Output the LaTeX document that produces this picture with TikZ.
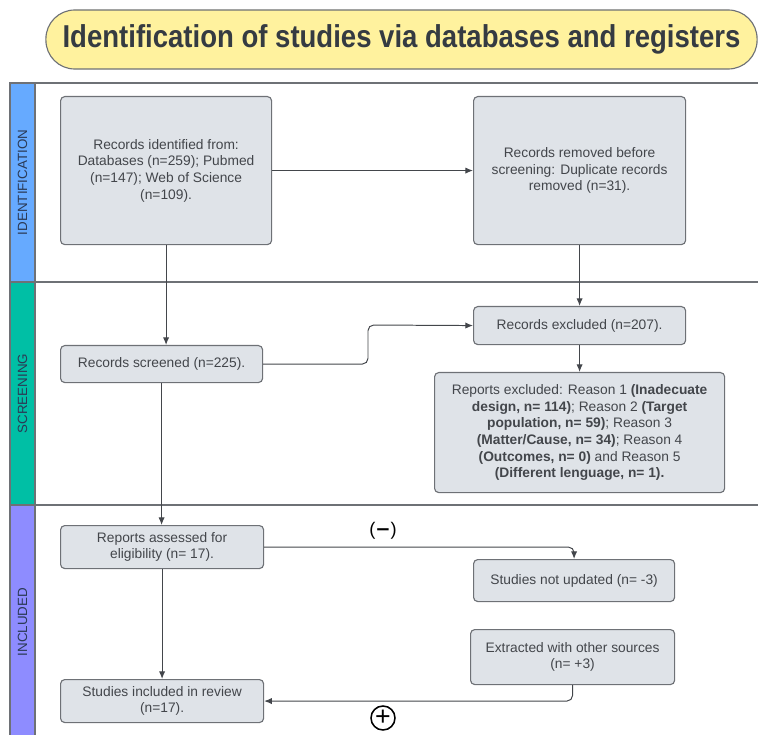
\documentclass[tikz,border=0pt]{standalone}
\usepackage{fontspec}
\usepackage{graphicx}
\setmainfont{Liberation Sans}
\newfontfamily\symbfont{DejaVu Sans}
\usepackage{xcolor}
\usepackage{tikz}
\usetikzlibrary{arrows.meta}

\definecolor{titlefill}{HTML}{FFF29E}
\definecolor{titletext}{HTML}{353B42}
\definecolor{boxfill}{HTML}{DFE3E8}
\definecolor{boxline}{HTML}{6E7176}
\definecolor{txtgray}{HTML}{43464B}
\definecolor{laneblue}{HTML}{66AAFF}
\definecolor{laneteal}{HTML}{00BFA5}
\definecolor{lanepurple}{HTML}{8E8CFF}
\definecolor{lanetext}{HTML}{2B3A55}

\begin{document}
\begin{tikzpicture}[x=0.025cm, y=-0.025cm, >={Latex[length=5.5pt,width=4.5pt]}, thin]
            \tikzset{box/.style={draw=boxline, fill=boxfill, rounded corners=3pt, line width=0.8pt,
                         align=center, text=txtgray, inner sep=0pt, anchor=north west,
                         font=\fontsize{9.8}{11.8}\selectfont},
                     lane/.style={draw=boxline, line width=1pt},
                     lanelabel/.style={rotate=90, text=lanetext, font=\fontsize{9.5}{11}\selectfont},
                     link/.style={->, draw=txtgray, line width=0.7pt, rounded corners=4pt}}
            \useasboundingbox (0,0) rectangle (758,735);
            % title
            \node[draw=boxline, fill=titlefill, rounded corners=0.72cm, line width=0.8pt,
                  minimum width=17.775cm, minimum height=1.475cm, text=titletext] (T) at (401.5,39.5)
                 {\resizebox{482pt}{16.3pt}{\bfseries Identification of studies via databases and registers}};
            % lanes
            \fill[laneblue] (10,83) rectangle (35,282);
            \fill[laneteal] (10,282) rectangle (35,505);
            \fill[lanepurple] (10,505) rectangle (35,735);
            \draw[lane] (758,83) -- (10,83) -- (10,735);
            \draw[lane] (35,83) -- (35,735);
            \draw[lane] (10,282) -- (758,282);
            \draw[lane] (10,505) -- (758,505);
            \node[lanelabel] (L1) at (22.5,182.5) {IDENTIFICATION};
            \node[lanelabel] (L2) at (22.5,393.5) {SCREENING};
            \node[lanelabel] (L3) at (22.5,622) {INCLUDED};
            % boxes
            \node[box, minimum width=5.275cm, minimum height=3.7cm] (A) at (60,96)
                 {Records identified from:\\Databases (n=259); Pubmed\\(n=147); Web of Science\\(n=109).};
            \node[box, minimum width=5.3cm, minimum height=3.7cm] (B) at (473,96)
                 {Records removed before\\screening: Duplicate records\\removed (n=31).};
            \node[box, minimum width=5.05cm, minimum height=0.925cm] (C) at (60,345)
                 {Records screened (n=225).};
            \node[box, minimum width=5.3cm, minimum height=0.95cm] (D) at (473,306)
                 {Records excluded (n=207).};
            \node[box, minimum width=7.25cm, minimum height=3.0cm] (E) at (434,372)
                 {Reports excluded: Reason 1 \textbf{(Inadecuate}\\\textbf{design, n= 114)}; Reason 2 \textbf{(Target}\\
                  \textbf{population, n= 59)}; Reason 3\\\textbf{(Matter/Cause, n= 34)}; Reason 4\\
                  \textbf{(Outcomes, n= 0)} and Reason 5\\\textbf{(Different lenguage, n= 1).}};
            \node[box, minimum width=5.075cm, minimum height=1.075cm] (F) at (60,525)
                 {Reports assessed for\\eligibility (n= 17).};
            \node[box, minimum width=5.025cm, minimum height=1.05cm] (G) at (473,559)
                 {Studies not updated (n= -3)};
            \node[box, minimum width=5.1cm, minimum height=1.375cm] (H) at (470,629)
                 {Extracted with other sources\\(n= +3)};
            \node[box, minimum width=5.075cm, minimum height=1.075cm] (I) at (60,679)
                 {Studies included in review\\(n=17).};
            \coordinate (CD) at (368,325);
            % connectors
            \draw[link] (A) -- (B);
            \draw[link] (A.south) -- (A.south |- C.north);
            \draw[link] (B.south) -- (B.south |- D.north);
            \draw[link] (C.east) -| (CD) -- (D.west);
            \draw[link] (D.south) -- (D.south |- E.north);
            \draw[link] (C.south) -- (C.south |- F.north);
            \draw[link] (F.east) -| (G.north);
            \draw[link] (F.south) -- (F.south |- I.north);
            \draw[link] (H.south) |- (I.east);
            \node[text=black, font=\fontsize{13}{14}\selectfont] (minus) at (383,531) {({\symbfont\bfseries −})};
            \node[circle, draw=black, line width=1.1pt, minimum size=0.6cm, inner sep=0pt, text=black,
                  font=\fontsize{19}{19}\selectfont] (plus) at (383,718) {+};
        \end{tikzpicture}
\end{document}
